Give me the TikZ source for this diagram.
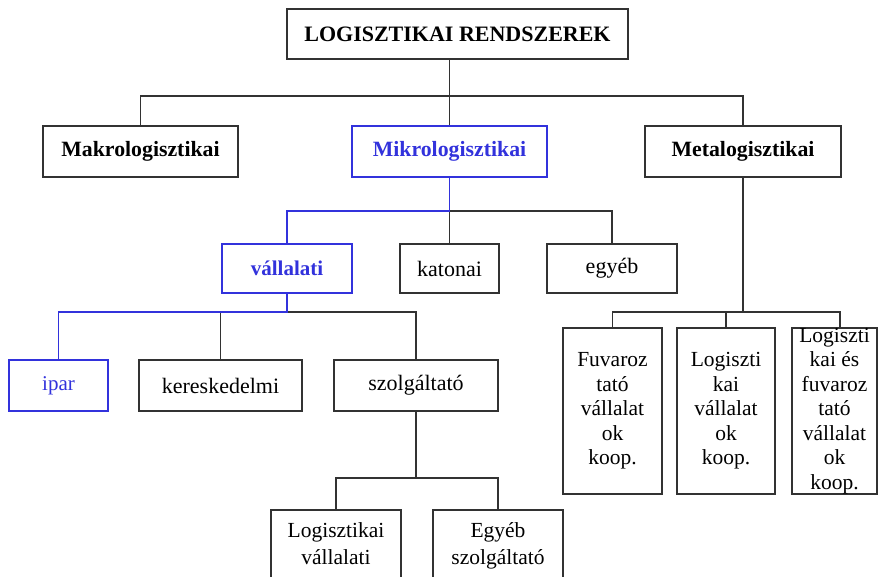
\documentclass[tikz,border=0pt]{standalone}
\usepackage{fontspec}
\setmainfont{Liberation Serif}
\usetikzlibrary{calc}
\definecolor{mikroblue}{RGB}{50,50,220}
\definecolor{linegray}{RGB}{50,50,50}

\begin{document}
\begin{tikzpicture}[x=1pt, y=-1pt,
	box/.style={draw=linegray, line width=1.7pt, inner sep=0pt, align=center,
		font=\fontsize{22}{24.5}\selectfont},
	head/.style={font=\fontsize{21.8}{24.5}\selectfont\bfseries},
	tall/.style={font=\fontsize{21.5}{24.5}\selectfont},
	low/.style={font=\fontsize{21.5}{27}\selectfont},
	bluebox/.style={box, draw=mikroblue, text=mikroblue},
	conn/.style={draw=linegray, line width=1.5pt},
	blueconn/.style={draw=mikroblue, line width=1.5pt}]
		
		% Page frame
		\fill[white] (0,0) rectangle (880,577);
		\useasboundingbox (0,0) rectangle (880,577);
		
		% Top level
		\node[box, head, font=\fontsize{22}{24.5}\selectfont\bfseries, minimum width=341, minimum height=50] (rendszer) at (457.5,34) {LOGISZTIKAI RENDSZEREK};
		
		% Second level
		\node[box, head, minimum width=195, minimum height=51] (makro) at (140.5,151.5) {Makrologisztikai};
		\node[bluebox, head, minimum width=195, minimum height=51] (mikro) at (449.5,151.5) {Mikrologisztikai};
		\node[box, head, minimum width=196, minimum height=51] (meta) at (743,151.5) {Metalogisztikai};
		
		% Under Mikrologisztikai
		\node[bluebox, head, font=\fontsize{21}{24.5}\selectfont\bfseries, minimum width=130, minimum height=49] (vallalati) at (287,268.5) {vállalati};
		\node[box, minimum width=99, minimum height=49] (katonai) at (449.5,268.5) {katonai};
		\node[box, minimum width=130, minimum height=49] (egyeb) at (612,268.5) {egyéb};
		
		% Under vállalati
		\node[bluebox, font=\fontsize{21}{24.5}\selectfont, minimum width=99, minimum height=51] (ipar) at (58.5,385.5) {ipar};
		\node[box, minimum width=163, minimum height=51] (keresk) at (220.5,385.5) {kereskedelmi};
		\node[box, minimum width=164, minimum height=51] (szolg) at (416,385.5) {szolgáltató};
		
		% Under szolgáltató (cut by the page edge)
		\node[box, low, minimum width=130, minimum height=94] (logvall) at (336,557) {Logisztikai\\vállalati\\ \null};
		\node[box, low, minimum width=130, minimum height=94] (egyebszolg) at (498,557) {Egyéb\\szolgáltató\\ \null};
		
		% Under Metalogisztikai
		\node[box, tall, minimum width=99, minimum height=166] (fuvaroz) at (612.5,411) {Fuvaroz\\tató\\vállalat\\ok\\koop.};
		\node[box, tall, minimum width=98, minimum height=166] (logkoop) at (726,411) {Logiszti\\kai\\vállalat\\ok\\koop.};
		\node[box, tall, minimum width=85, minimum height=166] (vegyes) at (834.5,411) {Logiszti\\kai és\\fuvaroz\\tató\\vállalat\\ok\\koop.};
		
		% Connectors
		\draw[conn] (rendszer.south -| mikro.north) -- (mikro.north);
		\draw[conn] (makro.north) -- ++(0,-29) -| (meta.north);
		\draw[conn] (mikro.south) -- ++(0,33) coordinate (mikrobranch) -- (katonai.north);
		\draw[conn] (mikrobranch) -| (egyeb.north);
		\draw[conn] (vallalati.south) -- ++(0,18) coordinate (vallbranch) -| (szolg.north);
		\draw[conn] (keresk.north) -- (keresk.north |- vallbranch);
		\draw[conn] (szolg.south) -- ++(0,66) coordinate (szolgbranch) -| (logvall.north);
		\draw[conn] (szolgbranch) -| (egyebszolg.north);
		\draw[conn] (meta.south) -- ++(0,134) coordinate (metabranch) -| (fuvaroz.north);
		\draw[conn] (metabranch) -| (logkoop.north);
		\draw[conn] (metabranch) -| ($(vegyes.north)+(5.5,0)$);
		
		% The blue path
		\draw[blueconn] (mikro.south) -- (mikrobranch) -| (vallalati.north);
		\draw[blueconn] (vallalati.south) -- (vallbranch) -| (ipar.north);
	\end{tikzpicture}
\end{document}
